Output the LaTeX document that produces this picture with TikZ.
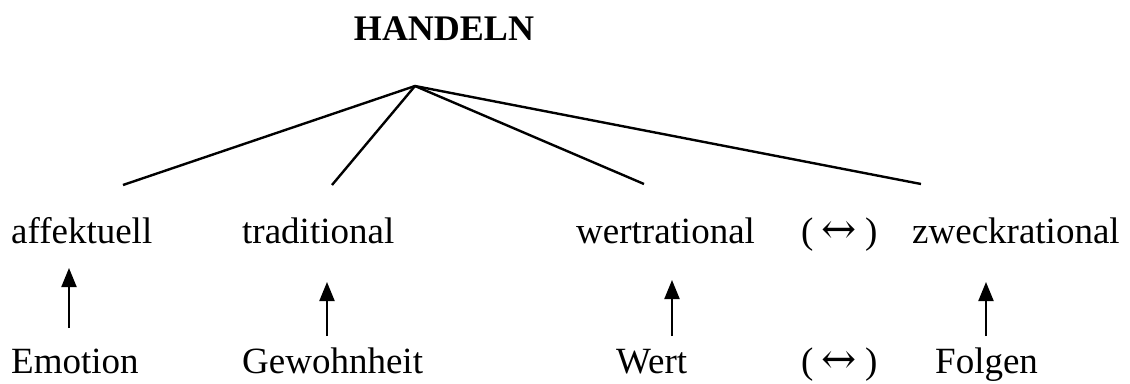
\documentclass[tikz,border=0pt]{standalone}
\usepackage{fontspec}
\setmainfont{Liberation Serif}
\newfontfamily\arrfont{DejaVu Serif}
\usetikzlibrary{arrows.meta}
\tikzset{
  lbl/.style={anchor=base west, inner sep=0pt, font=\fontsize{37}{44}\selectfont},
  ttl/.style={anchor=base, inner sep=0pt, font=\fontsize{36}{43}\selectfont\bfseries},
  branch/.style={line width=2.4pt},
  up/.style={line width=2pt, -{Triangle[width=15pt,length=19pt]}}
}
\newcommand{\bidir}{(\hspace{0.22em}{\arrfont\fontsize{42}{48}\selectfont ↔}\hspace{0.22em})}
\begin{document}
\begin{tikzpicture}[x=1pt,y=-1pt]
\useasboundingbox (0,0) rectangle (1130,383);
\node[ttl] (handeln) at (444,40) {HANDELN};
\coordinate (apex) at (415,86);
\coordinate (e1) at (123,185);
\coordinate (e2) at (332,185);
\coordinate (e3) at (644,184);
\coordinate (e4) at (921,184);
\draw[branch] (e1) -- (apex) -- (e4);
\draw[branch] (apex) -- (e2);
\draw[branch] (apex) -- (e3);

\node[lbl] (aff) at (11,243) {affektuell};
\node[lbl] (tra) at (242,243) {traditional};
\node[lbl] (wer) at (576,243) {wertrational};
\node[lbl] (pa1) at (801,243) {\bidir};
\node[lbl] (zwe) at (912,243) {zweckrational};

\node[lbl] (emo) at (11,373) {Emotion};
\node[lbl] (gew) at (242,373) {Gewohnheit};
\node[lbl] (wrt) at (616,373) {Wert};
\node[lbl] (pa2) at (801,373) {\bidir};
\node[lbl] (fol) at (935,373) {Folgen};

\coordinate (a1s) at (69,328);  \coordinate (a1t) at (69,268);
\coordinate (a2s) at (327,336); \coordinate (a2t) at (327,282);
\coordinate (a3s) at (672,336); \coordinate (a3t) at (672,280);
\coordinate (a4s) at (986,336); \coordinate (a4t) at (986,282);
\draw[up] (a1s) -- (a1t);
\draw[up] (a2s) -- (a2t);
\draw[up] (a3s) -- (a3t);
\draw[up] (a4s) -- (a4t);
\end{tikzpicture}
\end{document}
